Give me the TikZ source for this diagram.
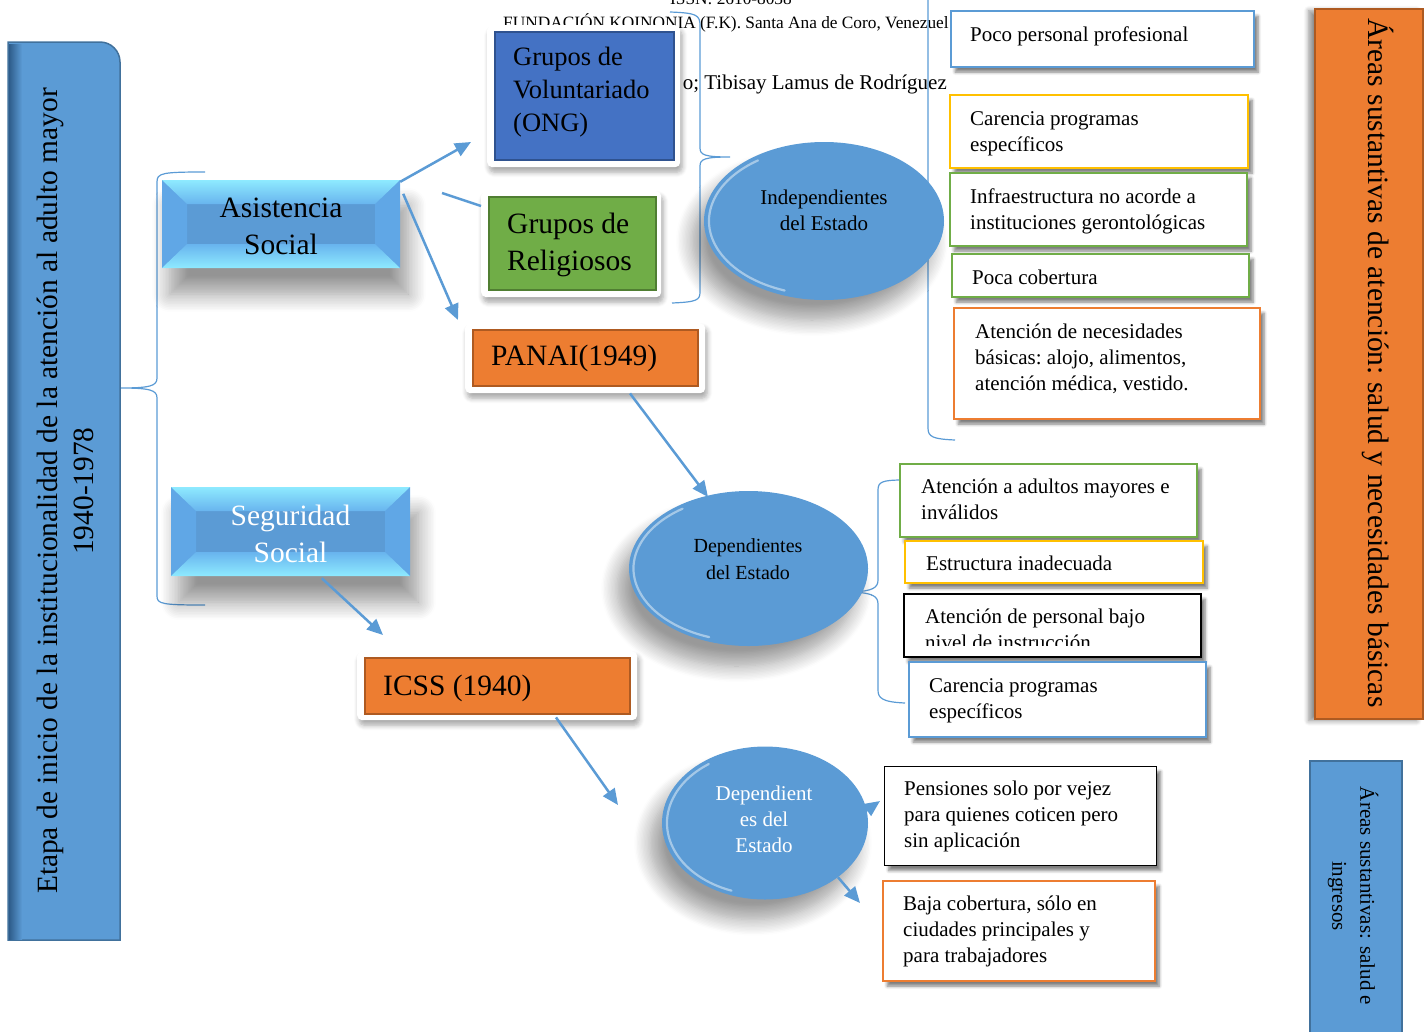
\documentclass[tikz,border=0pt]{standalone}
\usepackage{fontspec}
\setmainfont{Liberation Serif}
\usetikzlibrary{arrows.meta,shadows.blur,shapes.geometric,calc}
\definecolor{mblue}{HTML}{5B9BD5}
\definecolor{dblue}{HTML}{41719C}
\definecolor{edgeblue}{HTML}{2E5C8A}
\definecolor{vblue}{HTML}{4472C4}
\definecolor{vbluedark}{HTML}{2F528F}
\definecolor{mgreen}{HTML}{70AD47}
\definecolor{dgreen}{HTML}{507E32}
\definecolor{morange}{HTML}{ED7D31}
\definecolor{dorange}{HTML}{AE5A21}
\definecolor{myellow}{HTML}{FFC000}
\definecolor{bevcyan}{HTML}{8EEAFF}
\definecolor{bevmid}{HTML}{68B4EE}
\definecolor{bevside}{HTML}{60A7E6}

\newcommand{\fsBody}{\fontsize{21}{26}\selectfont\frenchspacing}
\newcommand{\fsBig}{\fontsize{29.5}{37}\selectfont\frenchspacing}
\newcommand{\fsGrp}{\fontsize{26.5}{33}\selectfont}
\newcommand{\fsHead}{\fontsize{17.3}{20}\selectfont}

\newcommand{\bevelpanel}[4]{%
  \fill[mblue, blur shadow={shadow xshift=8pt, shadow yshift=-26pt, shadow blur radius=18pt, shadow blur steps=12, shadow opacity=42}] (#1,#2) rectangle (#3,#4);
  \fill[bevside] (#1,#2) -- ({#1+25},{#2+24}) -- ({#1+25},{#4-24}) -- (#1,#4) -- cycle;
  \fill[bevside] (#3,#2) -- ({#3-25},{#2+24}) -- ({#3-25},{#4-24}) -- (#3,#4) -- cycle;
  \shade[top color=bevcyan, bottom color=bevmid] (#1,#2) -- (#3,#2) -- ({#3-25},{#2+24}) -- ({#1+25},{#2+24}) -- cycle;
  \shade[top color=bevmid, bottom color=bevcyan] (#1,#4) -- (#3,#4) -- ({#3-25},{#4-24}) -- ({#1+25},{#4-24}) -- cycle;
}

\tikzset{
  wbox/.style={draw, fill=white, line width=2.2pt, inner sep=0pt, anchor=north west,
    blur shadow={shadow xshift=4pt, shadow yshift=-5pt, shadow blur radius=3pt, shadow blur steps=6, shadow opacity=50}},
  btxt/.style={inner sep=0pt, align=left, anchor=north west, font=\fsBody},
  framebox/.style={fill=white, rounded corners=5pt, inner sep=0pt, anchor=north west,
    blur shadow={shadow xshift=2pt, shadow yshift=-5pt, shadow blur radius=5pt, shadow blur steps=6, shadow opacity=35}},
  oval/.style={ellipse, fill=mblue, inner sep=0pt,
    blur shadow={shadow xshift=-12pt, shadow yshift=-20pt, shadow blur radius=16pt, shadow blur steps=12, shadow opacity=40}},
  rim/.style={draw=white, opacity=0.45, line width=2.2pt, line cap=round},
  arr/.style={draw=mblue, line width=2.5pt, -{Triangle[length=16pt, width=14pt]}},
  plainline/.style={draw=mblue, line width=2.5pt},
  brace/.style={draw=mblue, line width=1.2pt},
  lbl/.style={inner sep=0pt, align=left, anchor=north west}
}

\begin{document}
\begin{tikzpicture}[x=1pt,y=-1pt]
\useasboundingbox (0,0) rectangle (1426,1031);

% header text behind
\node[font=\fsHead, inner sep=0pt, anchor=base west] (hdr0) at (670,4) {ISSN: 2610-8038};
\node[font=\fsHead, inner sep=0pt, anchor=base west] (hdr1) at (503,28) {FUNDACIÓN KOINONIA (F.K). Santa Ana de Coro, Venezuel};
\node[font=\fsBody, inner sep=0pt, anchor=base east] (hdr2) at (947,89) {o; Tibisay Lamus de Rodríguez};

% braces
\draw[brace] (205,172) .. controls (162,172) and (157,173) .. (157,182) -- (157,378)
  .. controls (157,386) and (150,388) .. (120,388)
  .. controls (150,388) and (157,390) .. (157,398) -- (157,596)
  .. controls (157,604) and (162,605) .. (205,605);
\draw[brace] (670,12) .. controls (697,13) and (700,15) .. (700,26) -- (700,148)
  .. controls (700,155) and (705,157) .. (730,157)
  .. controls (705,157) and (700,159) .. (700,166) -- (700,292)
  .. controls (700,300) and (697,302) .. (672,303);
\draw[brace] (928,-5) -- (928,210) .. controls (928,217) and (920,220) .. (905,220)
  .. controls (920,220) and (928,223) .. (928,230) -- (928,428)
  .. controls (928,437) and (933,439) .. (955,440);
\draw[brace] (903,480) .. controls (882,480) and (878,482) .. (878,490) -- (878,580)
  .. controls (878,588) and (872,591) .. (853,592)
  .. controls (872,593) and (878,596) .. (878,604) -- (878,690)
  .. controls (878,698) and (882,702) .. (905,703);

% left big box
\path[fill=mblue, draw=dblue, line width=1.5pt] (8,940) -- (8,42) -- (100,42)
  arc[start angle=-90, end angle=0, radius=20] -- (120,940) -- cycle;
\shade[left color=edgeblue, right color=mblue] (9,44) rectangle (22,939);
\node[rotate=90, align=center, font=\fontsize{29.4}{36}\selectfont] (lbt) at (65,491)
  {Etapa de inicio de la institucionalidad de la atención al adulto mayor\\1940-1978};

% bevel boxes
\bevelpanel{162}{180}{400}{268}
\node[minimum width=238pt, minimum height=88pt, inner sep=0pt, align=center, font=\fsBig] (as) at (281,226) {Asistencia\\Social};
\bevelpanel{171}{487}{410}{576}
\node[minimum width=239pt, minimum height=89pt, inner sep=0pt, align=center, font=\fsBig, text=white] (ss) at (290.5,533.5) {Seguridad\\Social};

% framed boxes
\node[framebox, minimum width=193pt, minimum height=142pt] (gv) at (487,25) {};
\draw[fill=vblue, draw=vbluedark, line width=1.2pt] (495,32) rectangle (674,160);
\node[lbl, font=\fsGrp] (gvt) at (513,47) {Grupos de\\Voluntariado\\(ONG)};

\node[framebox, minimum width=180pt, minimum height=106pt] (gr) at (481,191) {};
\draw[fill=mgreen, draw=dgreen, line width=1.2pt] (489,197) rectangle (656,290);
\node[lbl, font=\fsBig] (grt) at (507,213) {Grupos de\\Religiosos};

\node[framebox, minimum width=240pt, minimum height=70pt] (pn) at (465,323) {};
\draw[fill=morange, draw=dorange, line width=1.2pt] (473,330) rectangle (698,386);
\node[lbl, font=\fsBig] (pnt) at (491,345) {PANAI(1949)};

\node[framebox, minimum width=280pt, minimum height=69pt] (ic) at (357,651) {};
\draw[fill=morange, draw=dorange, line width=1.2pt] (365,658) rectangle (630,714);
\node[lbl, font=\fsBig] (ict) at (383,675) {ICSS (1940)};

% ellipses
\node[oval, minimum width=240pt, minimum height=158pt] (ind) at (824,221) {};
\draw[rim] ($(ind.center)+(110:115 and 74)$) arc[start angle=110, end angle=235, x radius=115, y radius=74];
\node[align=center, font=\fsBody, inner sep=0pt] (indt) at (824,210) {Independientes\\del Estado};

\node[oval, minimum width=239pt, minimum height=155pt] (dep) at (748.5,568.5) {};
\draw[rim] ($(dep.center)+(110:115 and 73)$) arc[start angle=110, end angle=235, x radius=115, y radius=73];
\node[align=center, font=\fontsize{20}{27}\selectfont, inner sep=0pt] (dept) at (748,559) {Dependientes\\del Estado};

\node[oval, minimum width=206pt, minimum height=153pt] (d3) at (765,823) {};
\draw[rim] ($(d3.center)+(110:98 and 72)$) arc[start angle=110, end angle=235, x radius=98, y radius=72];
\node[align=center, font=\fsBody, text=white, inner sep=0pt] (d3t) at (764,819) {Dependient\\es del\\Estado};

% right boxes (top group)
\node[wbox, draw=mblue, minimum width=303pt, minimum height=56pt] (r1) at (950,10) {};
\node[btxt] (r1t) at (970,27) {Poco personal profesional};
\node[wbox, draw=myellow, minimum width=298pt, minimum height=73pt] (r2) at (949,94) {};
\node[btxt] (r2t) at (970,111) {Carencia programas\\específicos};
\node[wbox, draw=mgreen, minimum width=297pt, minimum height=73pt] (r3) at (949,172) {};
\node[btxt] (r3t) at (970,189) {Infraestructura no acorde a\\instituciones gerontológicas};
\node[wbox, draw=mgreen, minimum width=297pt, minimum height=43pt] (r4) at (951,253) {};
\node[btxt] (r4t) at (972,270) {Poca cobertura};
\node[wbox, draw=morange, minimum width=306pt, minimum height=111pt] (r5) at (953,307) {};
\node[btxt] (r5t) at (975,324) {Atención de necesidades\\básicas: alojo, alimentos,\\atención médica, vestido.};

% right boxes (middle group)
\node[wbox, draw=mgreen, minimum width=297pt, minimum height=73pt] (s1) at (899,463) {};
\node[btxt] (s1t) at (921,479) {Atención a adultos mayores e\\inválidos};
\node[wbox, draw=myellow, minimum width=298pt, minimum height=42pt] (s2) at (904,540) {};
\node[btxt] (s2t) at (926,556) {Estructura inadecuada};
\node[wbox, draw=black, minimum width=297pt, minimum height=63pt] (s3) at (903,593) {};
\begin{scope}
  \clip (905,595) rectangle (1198,645);
  \node[btxt] (s3t) at (925,609) {Atención de personal bajo\\nivel de instrucción};
\end{scope}
\node[wbox, draw=mblue, minimum width=297pt, minimum height=75pt] (s4) at (908,661) {};
\node[btxt] (s4t) at (929,678) {Carencia programas\\específicos};

% right boxes (bottom group)
\node[wbox, draw=black, line width=1.3pt, minimum width=272pt, minimum height=99pt] (t1) at (884,766) {};
\node[btxt] (t1t) at (904,781) {Pensiones solo por vejez\\para quienes coticen pero\\sin aplicación};
\node[wbox, draw=morange, minimum width=272pt, minimum height=100pt] (t2) at (882,880) {};
\node[btxt] (t2t) at (903,896) {Baja cobertura, sólo en\\ciudades principales y\\para trabajadores};

% far right boxes
\node[draw=dorange, fill=morange, line width=1.5pt, minimum width=108pt, minimum height=710pt, inner sep=0pt, anchor=north west,
  blur shadow={shadow xshift=-6pt, shadow yshift=-2pt, shadow blur radius=5pt, shadow blur steps=6, shadow opacity=45}] (ob) at (1314,8) {};
\node[rotate=-90, font=\fsBig, inner sep=0pt] (obt) at (1378,363) {Áreas sustantivas de atención: salud y necesidades básicas};
\node[draw=dblue, fill=mblue, line width=1.5pt, minimum width=92pt, minimum height=290pt, inner sep=0pt, anchor=north west] (bb) at (1309,760) {};
\node[rotate=-90, align=center, font=\fontsize{21}{28}\selectfont, inner sep=0pt] (bbt) at (1353,896) {Áreas sustantivas: salud e\\ingresos};

% arrows
\coordinate (a1e) at (471,142);
\coordinate (a2s) at (442,193);
\coordinate (a3e) at (458,320);
\coordinate (a4e) at (708,497);
\coordinate (a5e) at (383,635);
\coordinate (a6e) at (618,805);
\coordinate (a7e) at (880,801);
\coordinate (a8e) at (860,903);
\draw[arr] (as.north east) -- (a1e);
\draw[plainline] (a2s) -- ($(gr.north west)+(0,15)$);
\draw[arr] ($(as.north east)+(3,12)$) -- (a3e);
\draw[arr] ($(pn.south west)+(165,0)$) -- (a4e);
\draw[arr] ($(ss.south west)+(151,0)$) -- (a5e);
\draw[arr] ($(ic.south west)+(199,-3)$) -- (a6e);
\draw[arr] ($(d3.east)+(-14,-4)$) -- (a7e);
\draw[arr] (d3.south east) -- (a8e);
\end{tikzpicture}
\end{document}
